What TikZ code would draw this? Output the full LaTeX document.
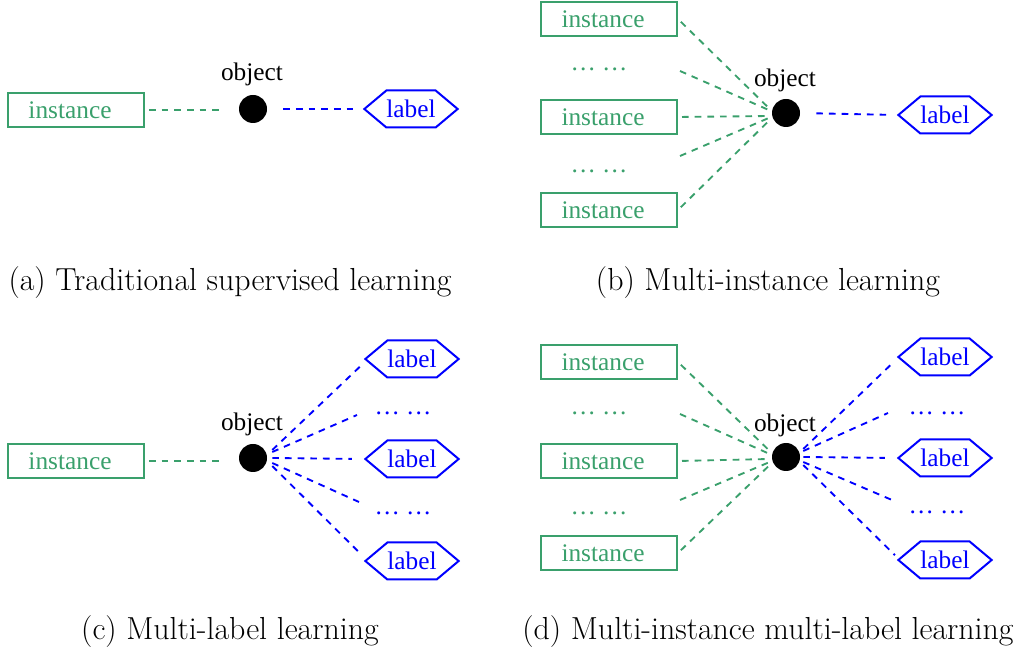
\documentclass[tikz,border=0pt]{standalone}
\usepackage{fontspec}
\newfontfamily\tnr{Liberation Serif}
\usetikzlibrary{shapes.symbols,calc}

\definecolor{igreen}{RGB}{58,160,108}
\definecolor{lblue}{RGB}{0,0,255}

\tikzset{
  inst/.style={draw=igreen, text=igreen, line width=1.5pt, minimum width=102pt, minimum height=25.5pt, inner sep=0pt, font=\tnr\fontsize{19}{22}\selectfont, execute at end node=\hspace*{9pt}},
  lab/.style={signal, signal to=west and east, signal pointer angle=80, draw=lblue, text=lblue, line width=1.5pt, minimum height=27.75pt, inner xsep=0pt, inner ysep=2pt, font=\tnr\fontsize{19}{22}\selectfont},
  obj/.style={circle, fill=black, minimum size=21pt, inner sep=0pt},
  objtext/.style={inner sep=0pt, font=\tnr\fontsize{19}{22}\selectfont},
  gdots/.style={inner sep=0pt, text=igreen, font=\tnr\fontsize{19}{22}\selectfont},
  bdots/.style={inner sep=0pt, text=lblue, font=\tnr\fontsize{19}{22}\selectfont},
  gline/.style={draw=igreen, line width=1.4pt, dash pattern=on 5pt off 4.5pt},
  bline/.style={draw=lblue, line width=1.4pt, dash pattern=on 5pt off 4.5pt},
  capt/.style={inner sep=0pt, font=\fontsize{23.9}{27}\selectfont}
}

\begin{document}
\begin{tikzpicture}[x=0.75pt,y=0.75pt,yscale=-1,xscale=1]
        \useasboundingbox (0,0) rectangle (1018,655);

        % (a) traditional supervised learning
        \node [inst] (ai) at (76,110) {instance};
        \node [obj] (ao) at (253,109) {};
        \node [objtext] (aot) at (252,74) {object};
        \node [lab] (al) at (411,109) {label};
        \draw [gline, shorten <=3pt, shorten >=12pt] (ai.east) -- (ai.east -| ao.west);
        \draw [bline, shorten <=12pt, shorten >=7pt] (ao.east) -- (al.west);
        \node [capt] (capa) at (230,283) {(a) Traditional supervised learning};

        % (b) multi-instance learning
        \node [inst] (bi1) at (609,19) {instance};
        \node [gdots] (bd1) at (599,69) {…\ …};
        \node [inst] (bi2) at (609,117) {instance};
        \node [gdots] (bd2) at (599,171) {…\ …};
        \node [inst] (bi3) at (609,210) {instance};
        \node [obj] (bo) at (786,113) {};
        \node [objtext] (bot) at (785,80) {object};
        \node [lab] (bl) at (945,115) {label};
        \coordinate (bd1e) at (680,71);
        \coordinate (bd2e) at (680,156);
        \draw [gline, shorten <=3pt] (bi1.east) -- ($(bo.west)+(-3,-5)$);
        \draw [gline] (bd1e) -- ($(bo.west)+(-3,-3)$);
        \draw [gline, shorten <=3pt] (bi2.east) -- ($(bo.west)+(-3,3)$);
        \draw [gline] (bd2e) -- ($(bo.west)+(-3,5)$);
        \draw [gline, shorten <=3pt] (bi3.east) -- ($(bo.west)+(-2,7)$);
        \draw [bline, shorten <=12pt, shorten >=8pt] (bo.east) -- (bl.west);
        \node [capt] (capb) at (768,283) {(b) Multi-instance learning};

        % (c) multi-label learning
        \node [inst] (ci) at (76,461) {instance};
        \node [obj] (co) at (253,458) {};
        \node [objtext] (cot) at (252,424) {object};
        \node [lab] (cl1) at (412,359) {label};
        \node [bdots] (cd1) at (403,413) {…\ …};
        \node [lab] (cl2) at (412,459) {label};
        \node [bdots] (cd2) at (403,513) {…\ …};
        \node [lab] (cl3) at (412,561) {label};
        \coordinate (cd1e) at (357,415);
        \coordinate (cd2e) at (359,502);
        \draw [gline, shorten <=3pt, shorten >=12pt] (ci.east) -- (ci.east -| co.west);
        \draw [bline, shorten >=3pt] ($(co.east)+(5,-8)$) -- ($(cl1.west)+(0,4)$);
        \draw [bline] ($(co.east)+(5,-6)$) -- (cd1e);
        \draw [bline, shorten >=9pt] ($(co.east)+(5,0)$) -- (cl2.west);
        \draw [bline] ($(co.east)+(5,5)$) -- (cd2e);
        \draw [bline, shorten >=3pt] ($(co.east)+(5,8)$) -- ($(cl3.west)+(0,-4)$);
        \node [capt] (capc) at (230,632) {(c) Multi-label learning};

        % (d) multi-instance multi-label learning
        \node [inst] (di1) at (609,362) {instance};
        \node [gdots] (dd1) at (599,413) {…\ …};
        \node [inst] (di2) at (609,461) {instance};
        \node [gdots] (dd2) at (599,513) {…\ …};
        \node [inst] (di3) at (609,553) {instance};
        \node [obj] (do) at (786,457) {};
        \node [objtext] (dot) at (785,425) {object};
        \node [lab] (dl1) at (945,357) {label};
        \node [bdots] (ld1) at (937,413) {…\ …};
        \node [lab] (dl2) at (945,458) {label};
        \node [bdots] (ld2) at (937,512) {…\ …};
        \node [lab] (dl3) at (945,560) {label};
        \coordinate (dd1e) at (680,414);
        \coordinate (dd2e) at (680,500);
        \coordinate (ld1e) at (888,413);
        \coordinate (ld2e) at (892,500);
        \draw [gline, shorten <=3pt] (di1.east) -- ($(do.west)+(-2,-6)$);
        \draw [gline] (dd1e) -- ($(do.west)+(-2,-3)$);
        \draw [gline, shorten <=3pt] (di2.east) -- ($(do.west)+(-2,2)$);
        \draw [gline] (dd2e) -- ($(do.west)+(-2,5)$);
        \draw [gline, shorten <=3pt] (di3.east) -- ($(do.west)+(-2,8)$);
        \draw [bline, shorten >=3pt] ($(do.east)+(3,-8)$) -- ($(dl1.west)+(0,2)$);
        \draw [bline] ($(do.east)+(3,-6)$) -- (ld1e);
        \draw [bline, shorten >=9pt] ($(do.east)+(3,0)$) -- (dl2.west);
        \draw [bline] ($(do.east)+(3,5)$) -- (ld2e);
        \draw [bline, shorten >=2pt] ($(do.east)+(3,8)$) -- ($(dl3.west)+(0,-3)$);
        \node [capt] (capd) at (768,632) {(d) Multi-instance multi-label learning};
\end{tikzpicture}
\end{document}
